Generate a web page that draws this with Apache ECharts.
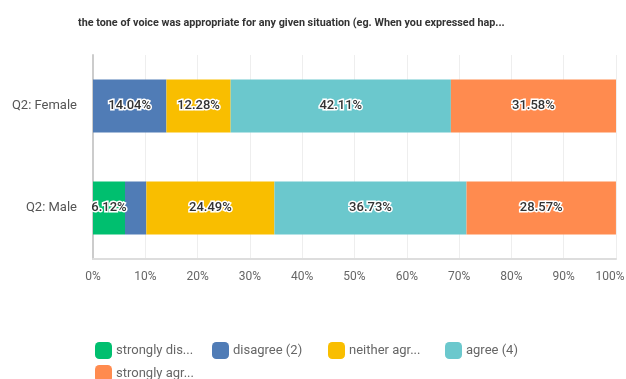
<!DOCTYPE html>
<html><head><meta charset="utf-8">
<script src="https://cdn.jsdelivr.net/npm/echarts@6/dist/echarts.min.js"></script>
<style>html,body{margin:0;padding:0;background:#fff}#c{width:626px;height:379px}</style>
</head><body><div id="c"></div>
<script>
var titleText = 'the tone of voice was appropriate for any given situation (eg. When you expressed hap...';
var categories = ['Q2: Male', 'Q2: Female'];
var seriesNames = ['strongly disagree (1)', 'disagree (2)', 'neither agree nor disagree (3)', 'agree (4)', 'strongly agree (5)'];
var colors = ['#00BF6F', '#507CB6', '#F9BE00', '#6BC8CD', '#FF8B4F'];
var stronglyDisagree = [6.12, 0];
var disagree = [4.08, 14.04];
var neither = [24.49, 12.28];
var agree = [36.73, 42.11];
var stronglyAgree = [28.57, 31.58];
var xTicks = [0, 10, 20, 30, 40, 50, 60, 70, 80, 90, 100];

var values = [stronglyDisagree, disagree, neither, agree, stronglyAgree];
var font = 'Roboto, "Noto Sans", sans-serif';
var chart = echarts.init(document.getElementById('c'));
var series = seriesNames.map(function (n, i) {
  return {
    name: n, type: 'bar', stack: 'a', barWidth: 53,
    itemStyle: { color: colors[i] },
    label: {
      show: true, position: 'inside', fontFamily: font, fontSize: 13, fontWeight: 500,
      color: '#333', textBorderColor: '#fff', textBorderWidth: 3,
      formatter: function (p) { return p.value < 5 ? '' : p.value.toFixed(2) + '%'; }
    },
    data: values[i]
  };
});
var legendPos = [[90, 337], [207, 337], [323, 337], [440, 337], [90, 360]];
var legends = seriesNames.map(function (n, i) {
  return {
    data: [n], left: legendPos[i][0], top: legendPos[i][1],
    icon: 'roundRect', itemWidth: 17, itemHeight: 17,
    textStyle: { fontFamily: font, fontSize: 13, color: '#666', width: 81, overflow: 'truncate', padding: [0, 0, 0, -1] }
  };
});
chart.setOption({
  animation: false,
  title: { text: titleText, left: 73, top: 13, textStyle: { fontFamily: font, fontSize: 10.8, fontWeight: 'bold', color: '#333' } },
  legend: legends,
  grid: { left: 93, right: 10, top: 55, bottom: 120, outerBoundsMode: 'none', containLabel: false },
  xAxis: {
    type: 'value', min: 0, max: 100, interval: 10,
    axisLabel: {
      formatter: function (v) { return v === 100 ? '{m|' + v + '%}' : (xTicks.indexOf(v) >= 0 ? v + '%' : ''); },
      rich: { m: { padding: [0, 12, 0, 0], fontFamily: font, fontSize: 12, color: '#666' } },
      fontFamily: font, fontSize: 12, color: '#666', margin: 12
    },
    axisLine: { show: true, lineStyle: { color: '#ddd', width: 2 } },
    axisTick: { show: false },
    splitLine: { show: true, lineStyle: { color: '#eee' } }
  },
  yAxis: {
    type: 'category', data: categories,
    axisLabel: { fontFamily: font, fontSize: 13, color: '#555', margin: 16 },
    axisLine: { show: true, lineStyle: { color: '#ccc', width: 2 } },
    axisTick: { show: false }
  },
  series: series
});
</script></body></html>
